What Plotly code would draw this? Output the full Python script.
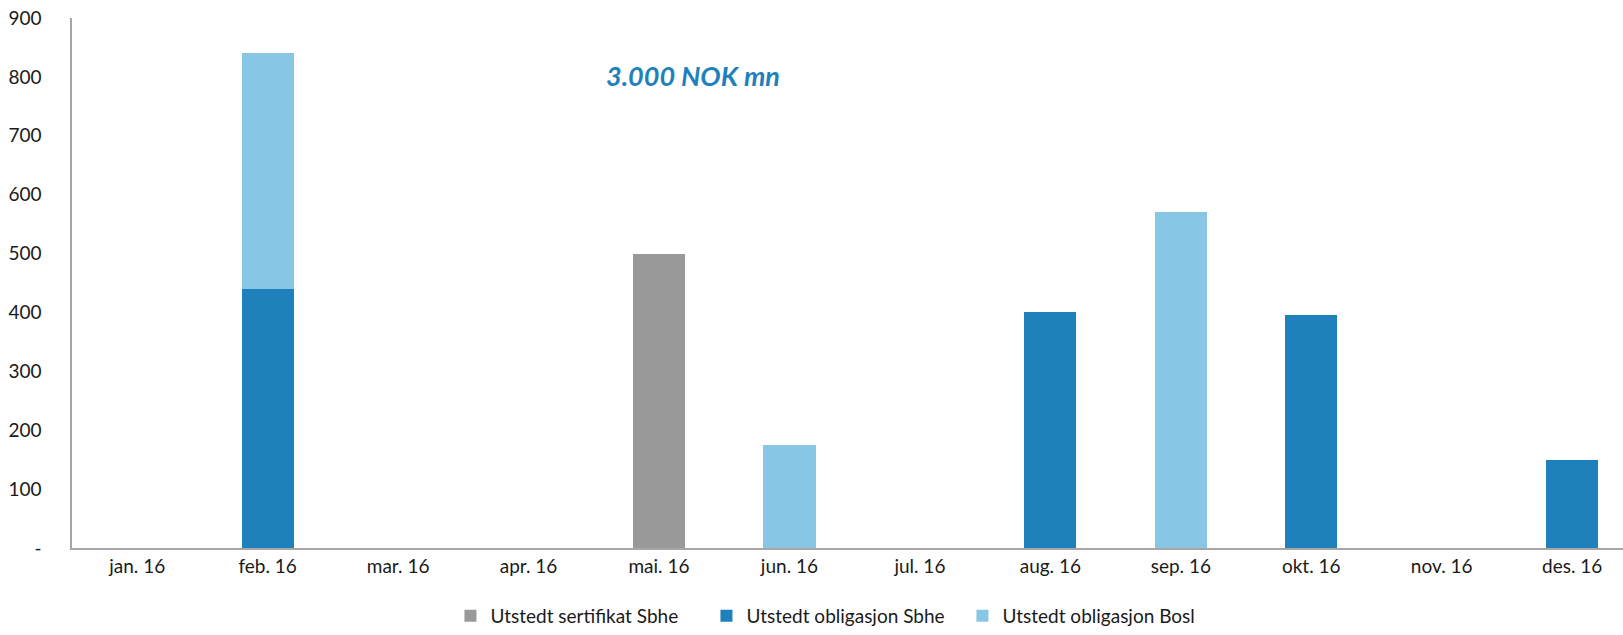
import plotly.graph_objects as go

months = ["jan. 16", "feb. 16", "mar. 16", "apr. 16", "mai. 16", "jun. 16",
          "jul. 16", "aug. 16", "sep. 16", "okt. 16", "nov. 16", "des. 16"]
sertifikat_sbhe = [0, 0, 0, 0, 500, 0, 0, 0, 0, 0, 0, 0]
obligasjon_sbhe = [0, 440, 0, 0, 0, 0, 0, 400, 0, 395, 0, 150]
obligasjon_bosl = [0, 400, 0, 0, 0, 175, 0, 0, 570, 0, 0, 0]

y_ticks = [0, 100, 200, 300, 400, 500, 600, 700, 800, 900]
y_tick_text = ["-", "100", "200", "300", "400", "500", "600", "700", "800", "900"]

FONT = "Lato, 'Open Sans', sans-serif"
TXT = "#1a1a1a"
x_idx = list(range(len(months)))

fig = go.Figure()
series = [
    ("Utstedt sertifikat Sbhe", sertifikat_sbhe, "#999999"),
    ("Utstedt obligasjon Sbhe", obligasjon_sbhe, "#1F81BC"),
    ("Utstedt obligasjon Bosl", obligasjon_bosl, "#87C6E5"),
]
for name, vals, color in series:
    fig.add_trace(go.Bar(
        x=x_idx, y=vals, name=name, width=0.4,
        marker=dict(color=color, line=dict(width=0)),
    ))

fig.add_annotation(
    x=4.26, y=803, xref="x", yref="y", text="<b><i>3.000 NOK mn</i></b>",
    showarrow=False, font=dict(family=FONT, size=27, color="#1F81BC"),
)

fig.update_layout(
    barmode="stack",
    width=1623, height=635,
    margin=dict(l=72, r=0, t=18, b=87, autoexpand=False),
    paper_bgcolor="white", plot_bgcolor="white",
    font=dict(family=FONT, size=19, color=TXT),
    legend=dict(orientation="h", x=0.244, xanchor="left",
                yref="container", y=0.0, yanchor="bottom", borderwidth=0,
                font=dict(family=FONT, size=19, color=TXT),
                traceorder="normal", itemwidth=30, entrywidth=211, entrywidthmode="pixels"),
    showlegend=True,
)
fig.update_xaxes(
    tickmode="array", tickvals=x_idx, ticktext=months,
    range=[-0.5, 11.39], showgrid=False, zeroline=False, automargin=False,
    showline=True, linecolor="#A6A6A6", linewidth=1.5, ticks="",
    tickfont=dict(family=FONT, size=19, color=TXT),
)
fig.update_yaxes(
    range=[0, 900], tickmode="array", tickvals=y_ticks, ticktext=y_tick_text,
    showgrid=False, zeroline=False, showline=True, linecolor="#A6A6A6", linewidth=1.5,
    ticks="", ticklabelstandoff=25, automargin=False,
    tickfont=dict(family=FONT, size=19, color=TXT),
)

fig.write_html("out.html")
